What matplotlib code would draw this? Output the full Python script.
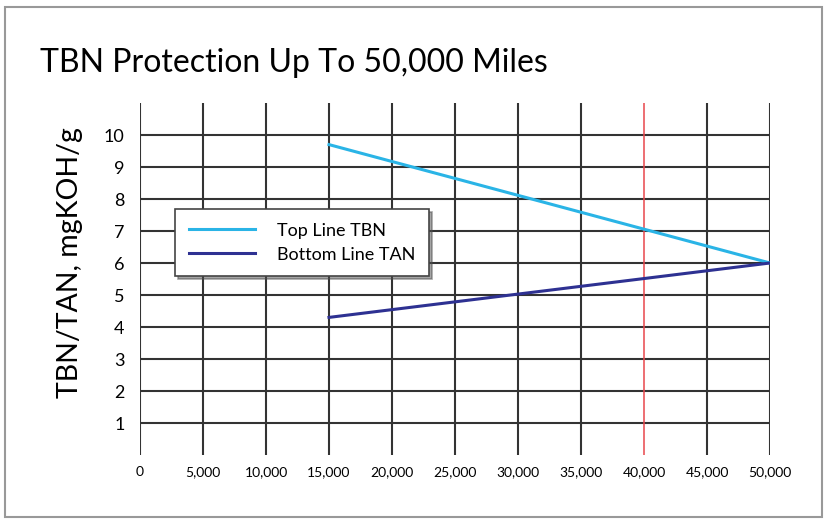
import numpy as np
import matplotlib.pyplot as plt
from matplotlib.patches import Rectangle

plt.rcParams['font.family'] = ['Lato', 'DejaVu Sans']

# data
miles = [15000, 50000]
tbn = [9.7, 6.0]
tan = [4.3, 6.0]
x_ticks = [0, 5000, 10000, 15000, 20000, 25000, 30000, 35000, 40000, 45000, 50000]
x_labels = ['0', '5,000', '10,000', '15,000', '20,000', '25,000', '30,000',
            '35,000', '40,000', '45,000', '50,000']
y_ticks = [1, 2, 3, 4, 5, 6, 7, 8, 9, 10]
marker_mile = 40000

fig = plt.figure(figsize=(8.25, 5.19), dpi=100)
fig.patch.set_facecolor('white')
ax = fig.add_axes([140/825, 1-455/519, 630/825, 352/519])

grid_col = '#333333'
for y in y_ticks:
    ax.plot([0, 50000], [y, y], color=grid_col, lw=1.5, zorder=1)
for x in x_ticks:
    if x == marker_mile:
        continue
    ax.axvline(x, color=grid_col, lw=1.5, zorder=1)
ax.axvline(marker_mile, color='#e8474c', lw=1.1, zorder=1)

ax.plot(miles, tbn, color='#2ab4e6', lw=2.2, label='Top Line TBN', zorder=3)
ax.plot(miles, tan, color='#2e3192', lw=2.2, label='Bottom Line TAN', zorder=3)

ax.set_xlim(0, 50000)
ax.set_ylim(0, 11)
ax.set_xticks(x_ticks)
ax.set_xticklabels(x_labels, fontsize=10)
ax.set_yticks(y_ticks)
ax.set_yticklabels([str(v) for v in y_ticks], fontsize=13)
ax.tick_params(length=0)
ax.tick_params(axis='x', pad=8)
ax.tick_params(axis='y', pad=11)
for s in ax.spines.values():
    s.set_visible(False)

ax.set_ylabel('TBN/TAN, mgKOH/g', fontsize=20.5)
ax.yaxis.set_label_coords(-0.09, 0.548)

leg = ax.legend(loc='upper left', bbox_to_anchor=(26/630, 255/352), fontsize=13,
                frameon=True, fancybox=False, shadow=True, handlelength=3.7,
                handletextpad=1.2, borderpad=0.75, labelspacing=0.45)
leg.get_frame().set_edgecolor('#444444')
leg.get_frame().set_linewidth(1.2)

fig.text(40/825, 1-63/519, 'TBN Protection Up To 50,000 Miles', fontsize=23,
         va='center', ha='left')

fig.patches.append(Rectangle((5/825, 1-517/519), 817/825, 510/519,
                             transform=fig.transFigure, fill=False,
                             edgecolor='#999999', lw=1.5))

fig.savefig('out.png', dpi=100)
